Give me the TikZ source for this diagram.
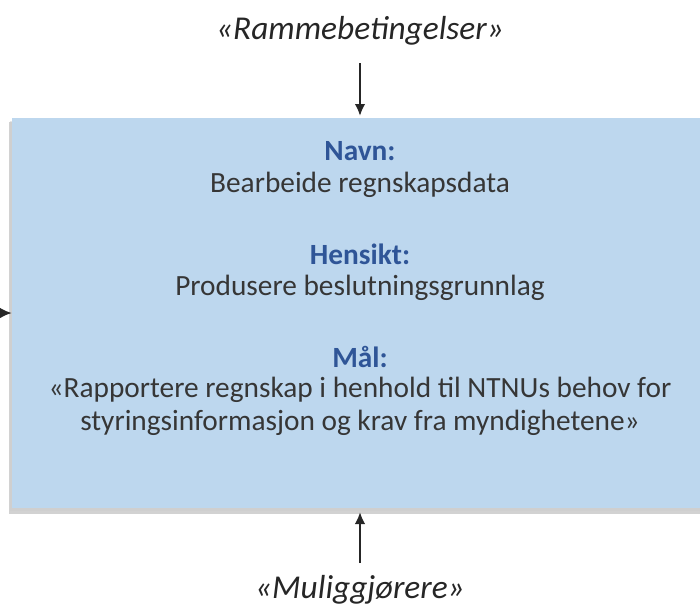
\documentclass[tikz,border=0pt]{standalone}
\usepackage{fontspec}
\setmainfont{Carlito}
\usetikzlibrary{arrows.meta}
\definecolor{boxfill}{HTML}{BDD7EE}
\definecolor{labelblue}{HTML}{2F5597}
\definecolor{bodytext}{HTML}{363636}
\tikzset{
  lbl/.style={font=\fontsize{22}{26}\selectfont\bfseries, text=labelblue, anchor=center},
  body/.style={font=\fontsize{22}{26}\selectfont, text=bodytext, anchor=center},
  outer/.style={font=\fontsize{25}{29}\selectfont\itshape, text=black!85, anchor=center},
  conn/.style={-{Latex[length=9pt,width=8pt]}, line width=2pt, black!85},
}
\begin{document}
\begin{tikzpicture}[x=0.75pt,y=-0.75pt]
\useasboundingbox (0,0) rectangle (700,612);
% shadow
\fill[black!35, opacity=0.5] (9,122) rectangle (710,514);
\fill[black!20, opacity=0.5] (10,121) rectangle (710,511);
\fill[boxfill] (12,118) rectangle (710,508);
\node (box) at (361,313) [minimum width=698*0.75pt, minimum height=390*0.75pt, inner sep=0pt] {};
\node[outer] (top) at (360,31) {«Rammebetingelser»};
\node[outer] (bot) at (360,590) {«Muliggjørere»};
\node[lbl] (n1) at (360,151) {Navn:};
\node[body] (n2) at (360,185) {Bearbeide regnskapsdata};
\node[lbl] (h1) at (360,254) {Hensikt:};
\node[body] (h2) at (360,288) {Produsere beslutningsgrunnlag};
\node[lbl] (m1) at (360,357) {Mål:};
\node[body] (m2) at (360,390) {«Rapportere regnskap i henhold til NTNUs behov for};
\node[body] (m3) at (360,423) {styringsinformasjon og krav fra myndighetene»};
\coordinate (tA) at (360,63);
\coordinate (tB) at (360,116);
\coordinate (bA) at (360,563);
\coordinate (bB) at (360,512);
\coordinate (lA) at (0,313);
\coordinate (lB) at (12,313);
\draw[conn] (tA) -- (tB);
\draw[conn] (bA) -- (bB);
\draw[conn] (lA) -- (lB);
\end{tikzpicture}
\end{document}
